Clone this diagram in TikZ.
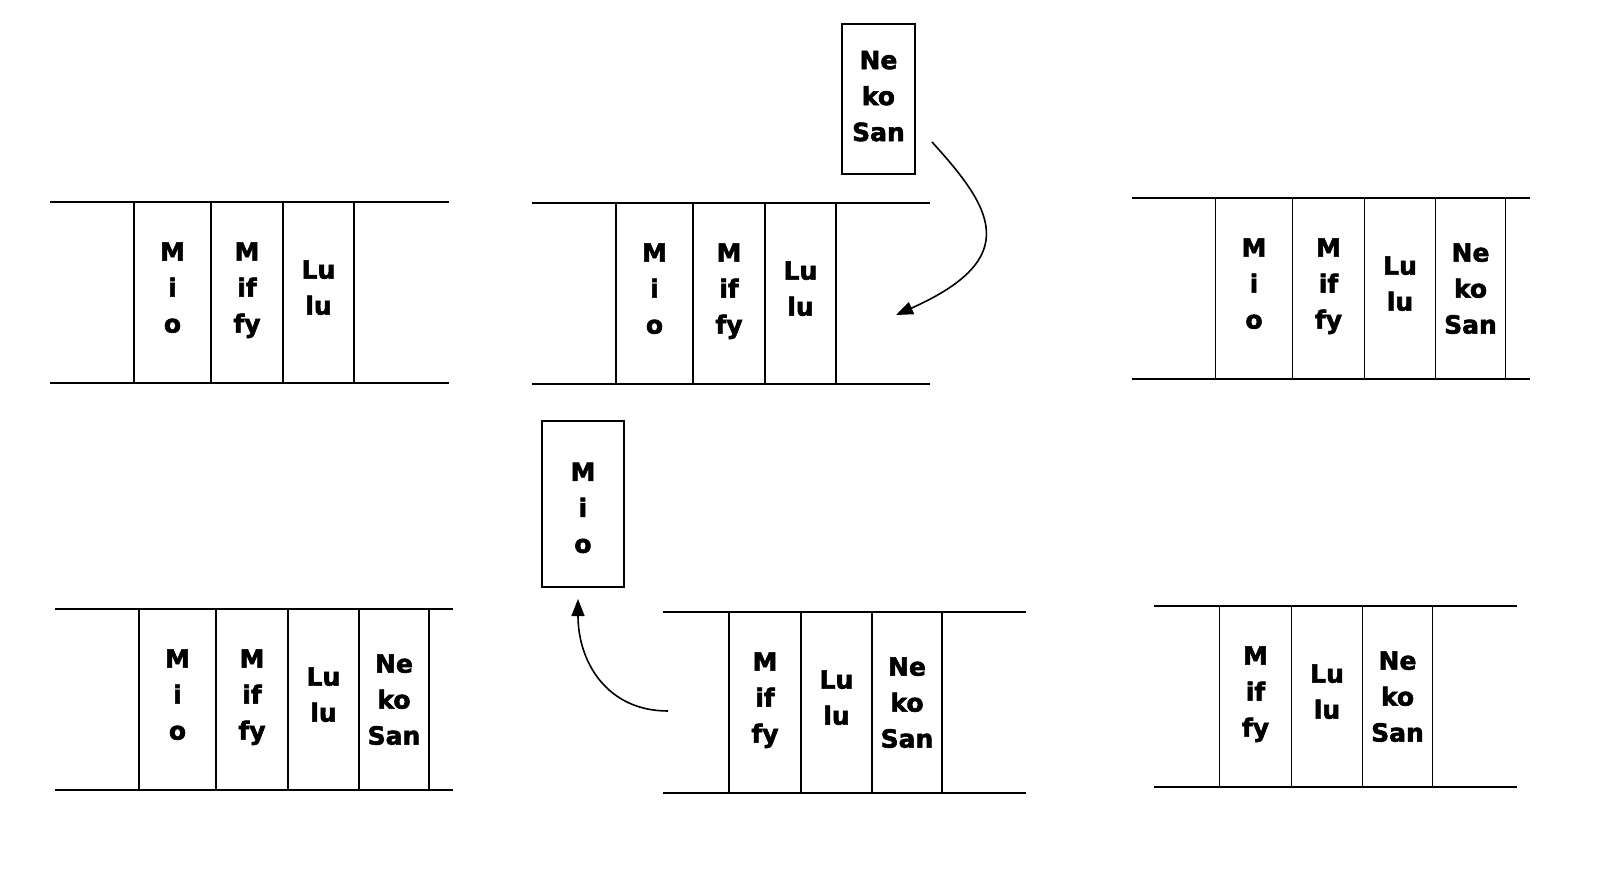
\documentclass[tikz,border=0pt]{standalone}
\usepackage{fontspec}
\setmainfont{DejaVu Sans}[BoldFeatures={FakeBold=2.2}]
\usetikzlibrary{chains,positioning,arrows.meta}
\tikzset{
    cat/.style={
        draw, rectangle, minimum height=181pt,
        inner sep=0pt, outer sep=0pt, align=center, text depth=10pt,
        font=\bfseries\fontsize{25}{36}\selectfont
    },
    mio/.style={cat, minimum width=77pt},
    miffy/.style={cat, minimum width=72pt},
    lulu/.style={cat, minimum width=71pt},
    neko/.style={cat, minimum width=70pt, text depth=0pt}
}
\begin{document}
\begin{tikzpicture}[
        x=1pt, y=-1pt, node distance=0pt, line width=1.9pt,
        waiting/.style={
            draw, rectangle, inner sep=0pt, align=center,
            font=\bfseries\fontsize{25}{36}\selectfont
        },
        move/.style={-{Triangle[length=17pt,width=13pt]}, line width=1.6pt}
      ]
    \useasboundingbox (0,0) rectangle (1612,877);

    % queue 1
    \begin{scope}[start chain=going right]
    \node[mio,on chain,anchor=north west] (a1) at (134,202) {M\\i\\o};
    \node[miffy,on chain] (a2) {M\\if\\fy};
    \node[lulu,on chain]  (a3) {Lu\\lu};
    \end{scope}
    \draw ([xshift=-84pt]a1.north west) -- ([xshift=95pt]a3.north east);
    \draw ([xshift=-84pt]a1.south west) -- ([xshift=95pt]a3.south east);

    % queue 2, Neko San comes in
    \begin{scope}[start chain=going right]
    \node[mio,on chain,anchor=north west] (b1) at (616,203) {M\\i\\o};
    \node[miffy,on chain] (b2) {M\\if\\fy};
    \node[lulu,on chain]  (b3) {Lu\\lu};
    \end{scope}
    \draw ([xshift=-84pt]b1.north west) -- ([xshift=94pt]b3.north east);
    \draw ([xshift=-84pt]b1.south west) -- ([xshift=94pt]b3.south east);
    \node[waiting,minimum width=73pt,minimum height=150pt,anchor=north west,text depth=6pt]
        (newneko) at (841,23) {Ne\\ko\\San};
    \coordinate (in1) at (932,142);
    \coordinate (in2) at (896,315);
    \draw[move] (in1) .. controls (992,208) and (1024,258) .. (in2);

    % queue 3
    \begin{scope}[start chain=going right]
    \node[mio,on chain,anchor=north west] (c1) at (1215.5,198) {M\\i\\o};
    \node[miffy,on chain] (c2) {M\\if\\fy};
    \node[lulu,on chain]  (c3) {Lu\\lu};
    \node[neko,on chain]  (c4) {Ne\\ko\\San};
    \end{scope}
    \draw ([xshift=-84pt]c1.north west) -- ([xshift=24pt]c4.north east);
    \draw ([xshift=-84pt]c1.south west) -- ([xshift=24pt]c4.south east);

    % queue 4
    \begin{scope}[start chain=going right]
    \node[mio,on chain,anchor=north west] (d1) at (139,609) {M\\i\\o};
    \node[miffy,on chain] (d2) {M\\if\\fy};
    \node[lulu,on chain]  (d3) {Lu\\lu};
    \node[neko,on chain]  (d4) {Ne\\ko\\San};
    \end{scope}
    \draw ([xshift=-84pt]d1.north west) -- ([xshift=24pt]d4.north east);
    \draw ([xshift=-84pt]d1.south west) -- ([xshift=24pt]d4.south east);

    % queue 5, Mio goes out
    \begin{scope}[start chain=going right]
    \node[miffy,on chain,anchor=north west] (e1) at (729,612) {M\\if\\fy};
    \node[lulu,on chain]  (e2) {Lu\\lu};
    \node[neko,on chain]  (e3) {Ne\\ko\\San};
    \end{scope}
    \draw ([xshift=-66pt]e1.north west) -- ([xshift=84pt]e3.north east);
    \draw ([xshift=-66pt]e1.south west) -- ([xshift=84pt]e3.south east);
    \node[waiting,minimum width=82pt,minimum height=166pt,anchor=north west,text height=98pt]
        (oldmio) at (541,420) {M\\i\\o};
    \coordinate (out1) at (668,711);
    \coordinate (out2) at (578,599);
    \draw[move] (out1) .. controls (607,711) and (578,662) .. (out2);

    % queue 6
    \begin{scope}[start chain=going right]
    \node[miffy,on chain,anchor=north west] (f1) at (1219.5,606) {M\\if\\fy};
    \node[lulu,on chain]  (f2) {Lu\\lu};
    \node[neko,on chain]  (f3) {Ne\\ko\\San};
    \end{scope}
    \draw ([xshift=-66pt]f1.north west) -- ([xshift=84pt]f3.north east);
    \draw ([xshift=-66pt]f1.south west) -- ([xshift=84pt]f3.south east);

\end{tikzpicture}
\end{document}
